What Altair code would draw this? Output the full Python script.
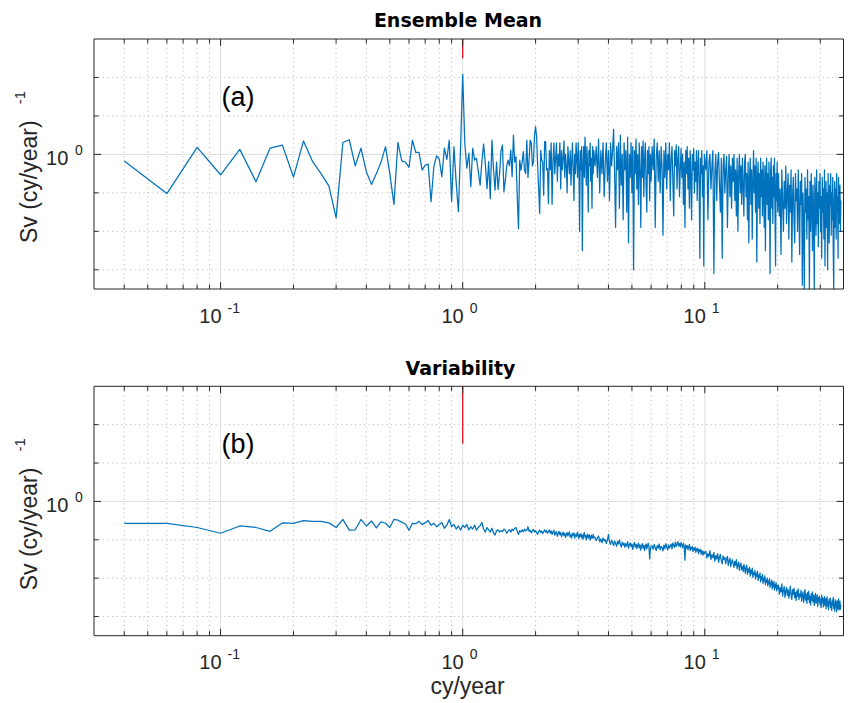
import altair as alt
import pandas as pd

FONT = "Liberation Sans"
TITLE_FONT = "DejaVu Sans"
BLUE = "#0072BD"
RED = "#E3000F"
AXC = "#262626"

# ---------------- data (log10 of Sv per cy/year) ----------------
FREQ_LOW = [round(0.02 * k, 2) for k in range(2, 114)]          # 0.04 .. 2.26 cy/year
SEG_GRID = [(2.28, 0.02, 61), (3.52, 0.04, 63), (6.06, 0.06, 66),
            (10.1, 0.1, 100), (20.16, 0.16, 103)]               # start, step, count

MEAN_LOW = [-0.17, -1.02, 0.18, -0.53, 0.13, -0.71, 0.16, 0.24, -0.59, 0.35,
            -0.19, -0.50, -0.82, -1.65, 0.31, 0.38, -0.30, 0.16, -0.45, -0.78,
            -0.50, -0.20, 0.20, -0.50, -1.30, 0.31, -0.17, -0.20, -0.34, 0.37,
            0.05, 0.05, -0.41, -0.28, -0.25, -1.23, -0.32, -0.04, -0.12, -0.58,
            0.16, -0.13, 0.37, -1.23, 0.20, -0.74, -1.49, 0.20, 2.08, 0.30,
            -0.36, 0.03, -0.84, 0.16, -0.15, -0.10, -0.45, -0.80, -0.20, 0.27,
            -0.24, -0.89, -0.19, -1.15, 0.37, -0.37, -0.93, -0.20, -0.91, -0.50,
            0.10, 0.24, -0.97, -0.67, -0.30, -0.15, -0.30, 0.11, -0.58, 0.50,
            -0.20, -0.06, -1.10, -1.93, -0.15, -0.41, -0.20, 0.07, -0.41, -0.50,
            0.37, -0.60, -0.15, 0.37, 0.30, -0.30, -0.20, 0.50, 0.72, 0.46,
            -0.30, -0.90, -1.54, 0.10, -0.15, -0.20, -1.06, 0.33, 0.33, -0.40,
            -0.37, -1.28]
MEAN_S1 = [0.1, -0.4, 0.3, -1.3, -0.2, 0.3, -0.5, -0.1, 0.3, -0.7,
           0.0, -0.3, 0.3, -0.9, 0.1, -0.4, -0.1, 0.35, -0.6, 0.0,
           -0.3, -1.0, 0.2, -0.2, -0.5, 0.1, -0.8, -0.2, 0.3, -0.4,
           -1.2, 0.0, -0.5, 0.3, -0.1, -0.6, 0.3, -0.3, -2.0, 0.1,
           -0.4, 0.2, -2.5, -0.3, 0.2, -0.6, 0.45, -0.1, -0.8, 0.2,
           -0.4, -1.5, 0.1, -0.3, 0.3, -0.7, -0.1, -1.4, 0.2, -0.5,
           0.1]
MEAN_S2 = [-0.3, 0.2, -0.6, 0.4, -1.0, 0.1, -0.5, 0.3, -1.1, -0.2,
           0.3, -0.7, 0.1, -1.2, 0.3, -0.3, 0.1, 0.65, -0.5, -1.9,
           0.2, -0.4, 0.3, -1.4, 0.5, -0.8, 0.0, -1.7, 0.3, -0.4,
           0.1, -1.5, 0.45, -2.3, 0.0, -0.6, 0.3, -1.0, 0.2, -3.0,
           0.1, -0.5, 0.4, -0.9, 0.0, -1.3, 0.3, -0.4, -1.9, 0.2,
           -0.6, 0.35, -1.1, -0.1, 0.3, -0.8, -1.5, 0.1, -0.5, 0.2,
           -1.2, 0.0, -0.7]
MEAN_S3 = [0.2, -0.4, 0.4, -1.9, -0.1, 0.3, -0.7, 0.1, -1.0, 0.2,
           -0.3, -2.1, 0.1, -0.6, 0.3, -0.9, 0.0, -0.4, 0.3, -1.2,
           -0.1, 0.2, -0.7, -1.6, 0.1, -0.3, 0.25, -0.9, -0.1, 0.2,
           -1.1, -0.4, 0.15, -0.6, 0.0, -1.3, -0.2, -1.9, 0.1, -0.5,
           0.2, -0.9, -0.1, -1.4, 0.1, -0.6, -1.7, 0.0, -0.4, 0.15,
           -1.0, -0.2, -0.7, 0.1, -1.2, -0.3, 0.1, -0.8, -2.7, -0.1,
           -0.5, 0.1, -1.1, -0.3, -2.9, 0.0]
MEAN_S4 = [-0.4, 0.1, -1.7, -0.2, 0.0, -0.9, -0.3, 0.1, -3.1, -0.5,
           0.0, -1.2, -0.2, 0.05, -0.8, -1.5, -0.1, -2.7, -0.3, 0.0,
           -1.0, -0.4, -0.05, -1.9, -0.6, 0.0, -1.1, -0.3, -1.4, -0.1,
           -0.7, 0.0, -1.2, -0.4, -1.6, -0.1, -2.0, -0.5, 0.0, -1.0,
           -0.3, -1.3, -0.1, -0.8, -1.6, -0.2, 0.0, -1.1, -0.5, -1.7,
           -0.2, -2.3, -0.6, -0.1, -1.3, -0.4, -2.2, -0.7, 0.1, -1.0,
           -0.3, -1.5, -0.1, -2.8, -0.6, -0.2, -1.4, -0.5, -1.8, -0.1,
           -1.1, -0.4, -1.6, -0.2, -0.9, -1.9, -0.3, -2.5, -0.6, -0.1,
           -1.3, -0.5, -1.7, -0.2, -1.0, -3.1, -0.4, -0.1, -1.4, -0.6,
           -1.8, -0.3, -1.1, -0.1, -1.6, -2.9, -0.5, -1.2, -0.2, -1.5]
MEAN_S5 = [-0.5, -1.6, -0.9, -2.6, -0.4, -1.2, -2.0, -0.7, -1.4, -0.3,
           -1.8, -1.0, -0.5, -2.2, -0.8, -1.5, -0.4, -2.8, -1.1, -0.6,
           -1.7, -2.3, -0.5, -1.2, -0.9, -2.0, -0.4, -1.4, -2.6, -0.7,
           -1.3, -0.5, -3.4, -1.0, -1.8, -3.5, -0.6, -1.5, -0.9, -2.2,
           -0.4, -1.7, -1.1, -3.5, -0.7, -2.0, -0.5, -1.3, -2.5, -0.8,
           -1.6, -3.5, -0.6, -1.2, -2.1, -0.4, -1.8, -1.0, -2.4, -0.7,
           -1.4, -0.5, -2.0, -1.1, -2.7, -0.6, -1.5, -0.9, -2.2, -0.4,
           -2.9, -1.2, -0.7, -1.9, -1.0, -3.0, -0.5, -1.6, -2.3, -0.8,
           -1.3, -0.5, -2.1, -1.0, -1.7, -0.6, -2.5, -3.5, -1.2, -0.7,
           -1.9, -0.9, -2.2, -0.5, -1.5, -1.1, -2.7, -0.6, -1.8, -1.3,
           -0.8, -2.0, -1.2]

VAR_LOW = [-0.57, -0.57, -0.68, -0.83, -0.64, -0.68, -0.78, -0.56, -0.57, -0.50,
           -0.52, -0.52, -0.56, -0.68, -0.47, -0.75, -0.74, -0.47, -0.64, -0.51,
           -0.69, -0.53, -0.57, -0.68, -0.47, -0.49, -0.54, -0.59, -0.75, -0.57,
           -0.58, -0.52, -0.60, -0.56, -0.50, -0.62, -0.57, -0.66, -0.60, -0.55,
           -0.70, -0.62, -0.47, -0.66, -0.60, -0.72, -0.64, -0.75, -0.62, -0.68,
           -0.60, -0.74, -0.66, -0.72, -0.62, -0.75, -0.68, -0.63, -0.55, -0.72,
           -0.80, -0.68, -0.74, -0.80, -0.70, -0.82, -0.88, -0.76, -0.74, -0.80,
           -0.76, -0.79, -0.72, -0.75, -0.83, -0.77, -0.74, -0.80, -0.72, -0.76,
           -0.70, -0.68, -0.78, -0.86, -0.76, -0.80, -0.74, -0.79, -0.72, -0.77,
           -0.75, -0.66, -0.78, -0.75, -0.82, -0.77, -0.73, -0.80, -0.76, -0.82,
           -0.86, -0.78, -0.75, -0.81, -0.77, -0.84, -0.79, -0.74, -0.80, -0.76,
           -0.83, -0.79]
VAR_S1 = [-0.74, -0.83, -0.77, -0.86, -0.80, -0.75, -0.88, -0.82, -0.79, -0.91,
          -0.84, -0.78, -0.87, -0.81, -0.92, -0.85, -0.80, -0.89, -0.83, -0.94,
          -0.86, -0.81, -0.90, -0.84, -0.79, -0.93, -0.87, -0.95, -0.83, -0.88,
          -0.82, -0.96, -0.89, -0.85, -0.92, -0.80, -0.90, -0.97, -0.86, -0.91,
          -0.84, -0.95, -0.88, -0.99, -0.87, -0.81, -0.93, -0.89, -1.00, -0.90,
          -0.85, -0.96, -0.91, -0.87, -1.01, -0.92, -0.88, -0.97, -0.93, -0.86,
          -0.95]
VAR_S2 = [-0.93, -1.02, -0.96, -0.90, -1.05, -0.98, -1.08, -0.95, -1.03, -0.99,
          -1.10, -1.00, -0.86, -1.06, -1.12, -1.01, -1.07, -1.15, -1.03, -1.09,
          -1.17, -1.04, -1.11, -1.00, -1.13, -1.19, -1.06, -1.14, -1.09, -1.20,
          -1.10, -1.16, -1.05, -1.22, -1.13, -1.08, -1.18, -1.11, -1.25, -1.14,
          -1.07, -1.19, -1.12, -1.23, -1.15, -1.09, -1.21, -1.13, -1.27, -1.16,
          -1.10, -1.22, -1.14, -1.28, -1.17, -1.11, -1.24, -1.15, -1.09, -1.20,
          -1.50, -1.23, -1.16]
VAR_S3 = [-1.16, -1.25, -1.12, -1.21, -1.28, -1.15, -1.22, -1.11, -1.26, -1.17,
          -1.20, -1.29, -1.14, -1.23, -1.10, -1.19, -1.27, -1.13, -1.22, -1.16,
          -1.11, -1.24, -1.08, -1.15, -1.20, -1.06, -1.17, -1.12, -1.05, -1.16,
          -1.10, -1.19, -1.07, -1.14, -1.21, -1.09, -1.16, -1.53, -1.13, -1.22,
          -1.15, -1.26, -1.18, -1.12, -1.28, -1.20, -1.24, -1.17, -1.31, -1.21,
          -1.27, -1.19, -1.33, -1.24, -1.29, -1.22, -1.36, -1.26, -1.31, -1.25,
          -1.38, -1.28, -1.33, -1.40, -1.30, -1.36]
VAR_S4 = [-1.30, -1.48, -1.36, -1.44, -1.28, -1.52, -1.39, -1.47, -1.33, -1.56,
          -1.41, -1.50, -1.36, -1.59, -1.45, -1.38, -1.55, -1.63, -1.42, -1.51,
          -1.46, -1.62, -1.50, -1.43, -1.67, -1.55, -1.48, -1.70, -1.57, -1.52,
          -1.63, -1.72, -1.56, -1.66, -1.52, -1.76, -1.64, -1.58, -1.80, -1.67,
          -1.60, -1.78, -1.70, -1.83, -1.64, -1.74, -1.87, -1.71, -1.66, -1.90,
          -1.76, -1.84, -1.71, -1.95, -1.79, -1.88, -1.74, -1.98, -1.85, -1.91,
          -1.80, -2.02, -1.87, -1.95, -1.82, -2.06, -1.92, -1.99, -1.86, -2.10,
          -1.96, -2.04, -1.90, -2.14, -2.00, -2.08, -1.94, -2.17, -2.05, -2.11,
          -1.99, -2.20, -2.08, -2.15, -2.01, -2.24, -2.11, -2.18, -2.05, -2.28,
          -2.12, -2.22, -2.08, -2.31, -2.17, -2.25, -2.11, -2.33, -2.19, -2.28]
VAR_S5 = [-2.18, -2.42, -2.25, -2.36, -2.15, -2.47, -2.31, -2.22, -2.50, -2.34,
          -2.24, -2.45, -2.29, -2.52, -2.38, -2.21, -2.46, -2.55, -2.30, -2.42,
          -2.26, -2.51, -2.37, -2.58, -2.33, -2.47, -2.28, -2.56, -2.41, -2.49,
          -2.32, -2.60, -2.44, -2.36, -2.63, -2.48, -2.30, -2.57, -2.42, -2.66,
          -2.38, -2.55, -2.34, -2.64, -2.47, -2.70, -2.41, -2.58, -2.36, -2.62,
          -2.45, -2.71, -2.52, -2.40, -2.66, -2.58, -2.43, -2.74, -2.50, -2.62,
          -2.47, -2.69, -2.55, -2.77, -2.44, -2.63, -2.52, -2.75, -2.60, -2.48,
          -2.71, -2.53, -2.80, -2.58, -2.49, -2.74, -2.61, -2.82, -2.55, -2.68,
          -2.52, -2.77, -2.63, -2.84, -2.57, -2.71, -2.50, -2.79, -2.66, -2.86,
          -2.56, -2.75, -2.62, -2.88, -2.59, -2.80, -2.67, -2.54, -2.83, -2.70,
          -2.60, -2.81, -2.69]

RED_X = [1.0]
RED_LOG_LOW = {"a": 2.5, "b": 1.5}

X_MINOR = [0.04, 0.05, 0.06, 0.07, 0.08, 0.09, 0.2, 0.3, 0.4, 0.5, 0.6, 0.7, 0.8, 0.9,
           2, 3, 4, 5, 6, 7, 8, 9, 20, 30]
X_MAJOR = [0.1, 1, 10]
X_EXP = ["-1", "0", "1"]
Y_MINOR = [1e-3, 1e-2, 1e-1, 1e1, 1e2]
Y_MAJOR = [1.0]
Y_EXP = ["0"]
XMIN, XMAX = 0.03, 37.4          # visible frequency range (right edge limited by page width)
YMIN, YMAX = 10 ** -3.5, 1000.0

TITLES = {"a": "Ensemble Mean", "b": "Variability"}
LETTERS = {"a": "(a)", "b": "(b)"}
YTITLE = "Sv (cy/year)"
YTITLE_SUP = "-1"
XTITLE = "cy/year"

# ---------------- layout ----------------
W, H = 749.5, 597
RANGES = {"a": [250, 0], "b": [596.7, 347.3]}
TOP = {"a": 0, "b": 347.3}

XS = alt.Scale(type="log", domain=[XMIN, XMAX], range=[0, W])


def build_series(low, segs):
    f = list(FREQ_LOW)
    v = list(low)
    for (start, step, n), vals in zip(SEG_GRID, segs):
        f += [round(start + step * i, 2) for i in range(n)]
        v += vals
    return pd.DataFrame({"f": f[:len(v)], "v": [10 ** x for x in v[:len(f)]]})


SERIES = {
    "a": build_series(MEAN_LOW, [MEAN_S1, MEAN_S2, MEAN_S3, MEAN_S4, MEAN_S5]),
    "b": build_series(VAR_LOW, [VAR_S1, VAR_S2, VAR_S3, VAR_S4, VAR_S5]),
}


def panel(p):
    ys = alt.Scale(type="log", domain=[YMIN, YMAX], range=RANGES[p], clamp=True)

    def X(f):
        return alt.X(f, type="quantitative", scale=XS, axis=None)

    def Y(f):
        return alt.Y(f, type="quantitative", scale=ys, axis=None)

    xg_min = pd.DataFrame({"x": X_MINOR, "yt": YMAX, "yb": YMIN})
    xg_maj = pd.DataFrame({"x": X_MAJOR, "yt": YMAX, "yb": YMIN, "exp": X_EXP, "base": "10"})
    yg_min = pd.DataFrame({"y": Y_MINOR, "xl": XMIN, "xr": XMAX})
    yg_maj = pd.DataFrame({"y": Y_MAJOR, "xl": XMIN, "xr": XMAX, "exp": Y_EXP, "base": "10"})
    frame = pd.DataFrame({"x1": [XMIN], "x2": [XMAX], "y1": [YMIN], "y2": [YMAX]})
    red = pd.DataFrame({"f": RED_X, "lo": [10 ** RED_LOG_LOW[p]], "hi": [YMAX]})

    dot = dict(color="#bdbdbd", strokeWidth=1, strokeDash=[1.2, 3.3])
    solid = dict(color="#dedede", strokeWidth=1)
    tk = dict(color=AXC, strokeWidth=1)
    txt = dict(font=FONT, color=AXC)

    L = []
    L.append(alt.Chart(xg_min).mark_rule(**dot).encode(x=X("x"), y=Y("yt"), y2="yb"))
    L.append(alt.Chart(yg_min).mark_rule(**dot).encode(y=Y("y"), x=X("xl"), x2="xr"))
    L.append(alt.Chart(xg_maj).mark_rule(**solid).encode(x=X("x"), y=Y("yt"), y2="yb"))
    L.append(alt.Chart(yg_maj).mark_rule(**solid).encode(y=Y("y"), x=X("xl"), x2="xr"))
    L.append(alt.Chart(SERIES[p]).mark_line(color=BLUE, strokeWidth=1.25, strokeJoin="round")
             .encode(x=X("f"), y=Y("v")))
    L.append(alt.Chart(red).mark_rule(color=RED, strokeWidth=1.2)
             .encode(x=X("f"), y=Y("lo"), y2="hi"))
    L.append(alt.Chart(frame).mark_rect(fillOpacity=0, stroke=AXC, strokeWidth=1)
             .encode(x=X("x1"), x2="x2", y=Y("y1"), y2="y2"))
    # inward ticks
    for data, ln in ((xg_min, 4.5), (xg_maj, 7)):
        L.append(alt.Chart(data).mark_rule(y2Offset=-ln, **tk).encode(x=X("x"), y=Y("yb"), y2="yb"))
        L.append(alt.Chart(data).mark_rule(y2Offset=ln, **tk).encode(x=X("x"), y=Y("yt"), y2="yt"))
    for data, ln in ((yg_min, 4.5), (yg_maj, 7)):
        L.append(alt.Chart(data).mark_rule(x2Offset=ln, **tk).encode(y=Y("y"), x=X("xl"), x2="xl"))
        L.append(alt.Chart(data).mark_rule(x2Offset=-ln, **tk).encode(y=Y("y"), x=X("xr"), x2="xr"))
    # tick labels
    L.append(alt.Chart(xg_maj).mark_text(align="right", baseline="alphabetic", dx=1, dy=33.5,
                                         fontSize=20, **txt)
             .encode(x=X("x"), y=Y("yb"), text="base:N"))
    L.append(alt.Chart(xg_maj).mark_text(align="left", baseline="alphabetic", dx=7, dy=23.5,
                                         fontSize=14, **txt)
             .encode(x=X("x"), y=Y("yb"), text="exp:N"))
    L.append(alt.Chart(yg_maj).mark_text(align="right", baseline="alphabetic", dx=-25.7, dy=10.7,
                                         fontSize=20, **txt)
             .encode(x=X("xl"), y=Y("y"), text="base:N"))
    L.append(alt.Chart(yg_maj).mark_text(align="right", baseline="alphabetic", dx=-11.3, dy=0.7,
                                         fontSize=14, **txt)
             .encode(x=X("xl"), y=Y("y"), text="exp:N"))
    # titles and annotations
    top = TOP[p]
    L.append(alt.Chart(pd.DataFrame({"t": [TITLES[p]]}))
             .mark_text(align="center", baseline="alphabetic", fontSize=19, fontWeight="bold",
                        font=TITLE_FONT, color="#000000")
             .encode(x=alt.value(364 if p == "a" else 366.5), y=alt.value(top - 11.7), text="t:N"))
    L.append(alt.Chart(pd.DataFrame({"t": [LETTERS[p]], "x": [0.1]}))
             .mark_text(align="left", baseline="alphabetic", dx=1, fontSize=27, font=FONT,
                        color="#000000")
             .encode(x=X("x"), y=alt.value(top + 66.5), text="t:N"))
    L.append(alt.Chart(pd.DataFrame({"t": [YTITLE]}))
             .mark_text(align="center", baseline="alphabetic", angle=270, fontSize=23, **txt)
             .encode(x=alt.value(-57.3), y=alt.value(top + 142.7), text="t:N"))
    L.append(alt.Chart(pd.DataFrame({"t": [YTITLE_SUP]}))
             .mark_text(align="center", baseline="alphabetic", angle=270, fontSize=15, **txt)
             .encode(x=alt.value(-69), y=alt.value(top + 58.5), text="t:N"))
    return L


layers = panel("a") + panel("b")
layers.append(alt.Chart(pd.DataFrame({"t": [XTITLE]}))
              .mark_text(align="center", baseline="alphabetic", fontSize=23, font=FONT, color=AXC)
              .encode(x=alt.value(373.5), y=alt.value(655), text="t:N"))

chart = (
    alt.layer(*layers)
    .resolve_scale(y="independent")
    .properties(width=W, height=H, background="white",
                padding={"left": 86, "top": 31, "right": 0.5, "bottom": 64},
                autosize=alt.AutoSizeParams(type="none"))
    .configure_view(stroke="transparent")
)

chart.save("out.html", embed_options={"renderer": "svg", "actions": False})
